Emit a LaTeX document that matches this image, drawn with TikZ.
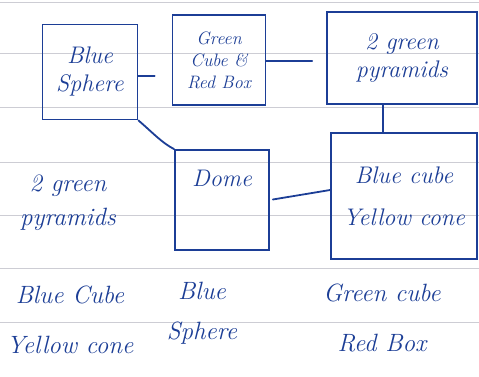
\documentclass[tikz,border=0pt]{standalone}
\usepackage{fontspec}
\definecolor{ink}{RGB}{28,62,150}
\definecolor{rule}{RGB}{205,205,212}
\begin{document}
\begin{tikzpicture}[x=1pt,y=-1pt,
  inkline/.style={draw=ink,line width=1.8pt,line join=round,line cap=round},
  boxn/.style={draw=ink,line width=1.8pt,rectangle,inner sep=2pt,align=center,text=ink,font=\itshape\fontsize{24}{28}\selectfont},
  lbl/.style={align=center,text=ink,font=\itshape\fontsize{25}{50}\selectfont},
  link/.style={inkline}]
\useasboundingbox (0,0) rectangle (479,377);
\fill[white] (0,0) rectangle (479,377);
\foreach \yy in {2,53,107,162,215,268,322}
  \draw[rule,line width=0.6pt] (0,\yy) -- (479,\yy);
% boxes
\node[boxn,minimum width=95pt,minimum height=95pt] (bs) at (90,72) {Blue\\Sphere};
\node[boxn,minimum width=93pt,minimum height=90pt,font=\itshape\fontsize{18}{22}\selectfont] (gc) at (219,60) {Green\\Cube \&\\Red Box};
\node[boxn,minimum width=150pt,minimum height=92pt] (gp) at (402,58) {2 green\\pyramids};
\node[boxn,minimum width=94pt,minimum height=100pt,text depth=44pt] (dome) at (222,200) {Dome};
\node[boxn,minimum width=146pt,minimum height=126pt,font=\itshape\fontsize{24}{42}\selectfont] (bc) at (404,196) {Blue cube\\Yellow cone};
% connectors
\draw[link,shorten >=17pt] (bs.east |- 0,76) -- (gc.west |- 0,76);
\draw[link,shorten >=14pt] (gc.east |- 0,61) -- (gp.west |- 0,61);
\draw[link] (gp.south -| 383,0) -- (bc.north -| 383,0);
\draw[link] (bs.south east) .. controls (152,132) and (162,143) .. (dome.north west);
\draw[link,shorten <=3pt] (dome.east |- 0,200) -- (bc.west |- 0,190);
% free labels
\node[lbl,font=\itshape\fontsize{25}{34}\selectfont] (t1) at (68,203) {2 green\\pyramids};
\node[lbl] (t2) at (70,320) {Blue Cube\\Yellow cone};
\node[lbl,font=\itshape\fontsize{25}{40}\selectfont] (t3) at (202,313) {Blue\\Sphere};
\node[lbl] (t4) at (382,318) {Green cube\\Red Box};
\end{tikzpicture}
\end{document}
